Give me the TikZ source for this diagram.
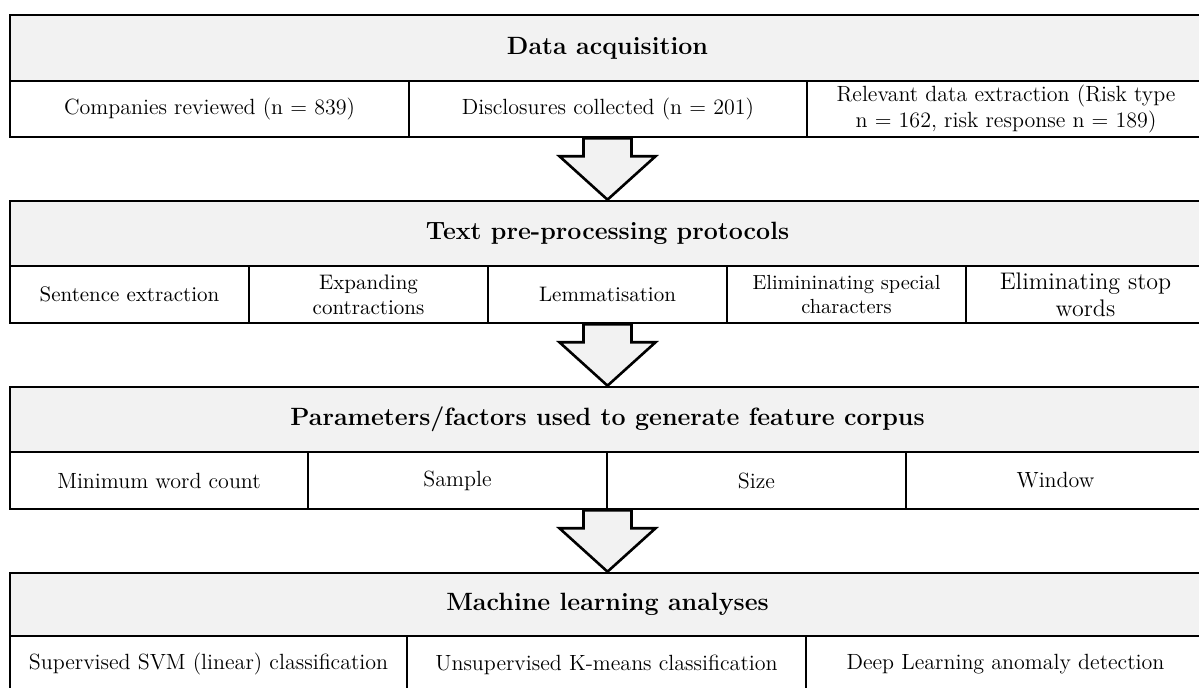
\documentclass[tikz,border=0pt]{standalone}
\usetikzlibrary{calc}
\definecolor{hdrgrey}{HTML}{F2F2F2}
\tikzset{
  % a cell spanning x from #1 to #2 and y from #3 to #4 (picture units)
  span/.style n args={4}{
    minimum width={(#2-#1)*0.5pt},
    minimum height={(#4-#3)*0.5pt},
    at={({(#1+#2)/2},{(#3+#4)/2})}},
  cell/.style={draw, line width=1.3pt, fill=white, inner sep=0pt,
    align=center, font=\fontsize{11}{13}\selectfont},
  hdr/.style={cell, fill=hdrgrey, font=\bfseries\fontsize{12.5}{15}\selectfont},
  flow/.style={draw, line width=1.3pt, fill=hdrgrey, line join=miter},
}
\begin{document}
\begin{tikzpicture}[x=0.5pt,y=-0.5pt]
\useasboundingbox (0,0) rectangle (1199,688);

% stage 1
\node[hdr, span={10}{1205}{15}{81}] (h1) {Data acquisition};
\node[cell, span={10}{409}{81}{137}] (c11) {Companies reviewed (n = 839)};
\node[cell, span={409}{807}{81}{137}] (c12) {Disclosures collected (n = 201)};
\node[cell, span={807}{1205}{81}{137}] (c13) {Relevant data extraction (Risk type\\n = 162, risk response n = 189)};

% stage 2
\node[hdr, span={10}{1205}{201}{266}] (h2) {Text pre-processing protocols};
\node[cell, span={10}{249}{266}{323}, font=\fontsize{10.5}{12.5}\selectfont] (c21) {Sentence extraction};
\node[cell, span={249}{488}{266}{323}, font=\fontsize{10.5}{12.5}\selectfont] (c22) {Expanding\\contractions};
\node[cell, span={488}{727}{266}{323}, font=\fontsize{10.5}{12.5}\selectfont] (c23) {Lemmatisation};
\node[cell, span={727}{966}{266}{323}, font=\fontsize{10.2}{12}\selectfont] (c24) {Elimininating special\\characters};
\node[cell, span={966}{1205}{266}{323}, font=\fontsize{12}{13.5}\selectfont] (c25) {Eliminating stop\\words};

% stage 3
\node[hdr, span={10}{1205}{387}{452}] (h3) {Parameters/factors used to generate feature corpus};
\node[cell, span={10}{308}{452}{509}] (c31) {Minimum word count};
\node[cell, span={308}{607}{452}{509}] (c32) {Sample};
\node[cell, span={607}{906}{452}{509}] (c33) {Size};
\node[cell, span={906}{1205}{452}{509}] (c34) {Window};

% stage 4
\node[hdr, span={10}{1205}{573}{636}] (h4) {Machine learning analyses};
\node[cell, span={10}{407}{636}{693}] (c41) {Supervised SVM (linear) classification};
\node[cell, span={407}{806}{636}{693}] (c42) {Unsupervised K-means classification};
\node[cell, span={806}{1205}{636}{693}] (c43) {Deep Learning anomaly detection};

% block arrows between stages
\foreach \src/\row/\dst in {h1/c11/h2, h2/c21/h3, h3/c31/h4}{
  \coordinate (a) at (\src.center |- \row.south);
  \draw[flow] ($(a)+(-24,0)$) -- ($(a)+(-24,18)$) -- ($(a)+(-48,18)$)
    -- (\dst.north) -- ($(a)+(48,18)$) -- ($(a)+(24,18)$) -- ($(a)+(24,0)$) -- cycle;
}
\end{tikzpicture}
\end{document}
